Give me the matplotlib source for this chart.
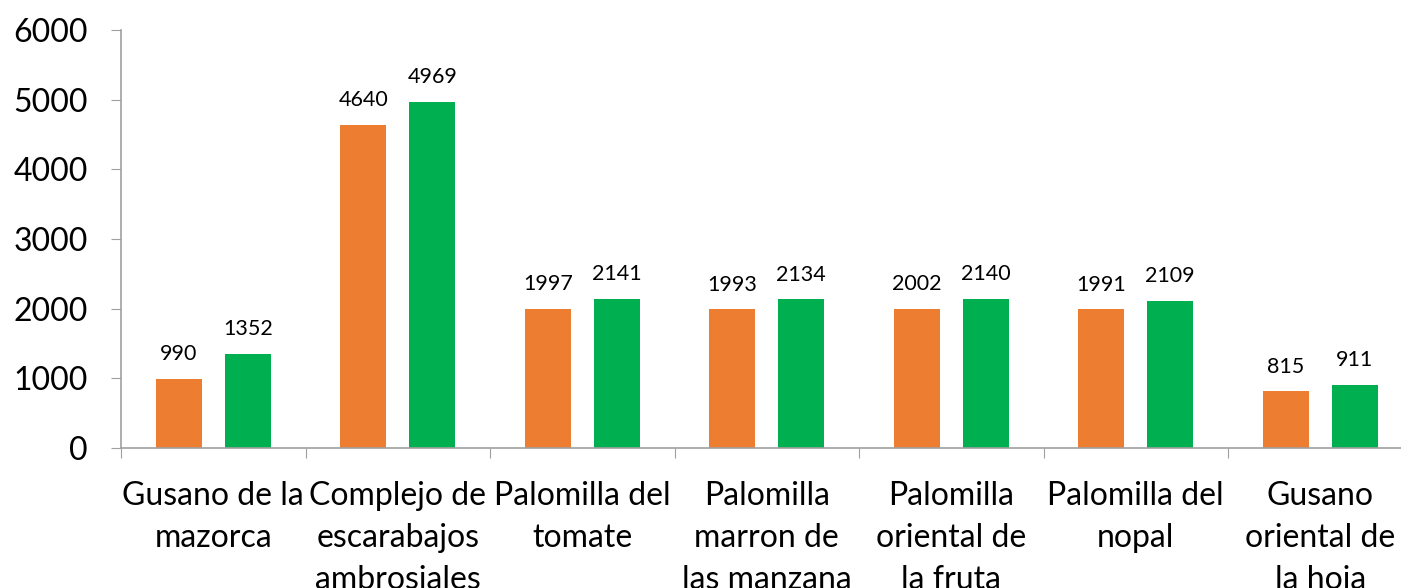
import numpy as np
import matplotlib.pyplot as plt

categories = ['Gusano de la\nmazorca', 'Complejo de\nescarabajos\nambrosiales',
              'Palomilla del\ntomate', 'Palomilla\nmarron de\nlas manzana',
              'Palomilla\noriental de\nla fruta', 'Palomilla del\nnopal',
              'Gusano\noriental de\nla hoja']
orange_vals = [990, 4640, 1997, 1993, 2002, 1991, 815]
green_vals = [1352, 4969, 2141, 2134, 2140, 2109, 911]
yticks = [0, 1000, 2000, 3000, 4000, 5000, 6000]

plt.rcParams['font.family'] = ['Lato', 'DejaVu Sans']

fig = plt.figure(figsize=(14.01, 5.88), dpi=100)
ax = fig.add_axes([121/1401, 1-448/588, 1291.5/1401, 418/588])

x = np.arange(len(categories))
off = 0.187
w = 0.25
b1 = ax.bar(x - off, orange_vals, w, color='#ED7D31')
b2 = ax.bar(x + off, green_vals, w, color='#00B050')

for bars, vals in ((b1, orange_vals), (b2, green_vals)):
    for bar, v in zip(bars, vals):
        ax.annotate(str(v), (bar.get_x() + bar.get_width()/2, v),
                    xytext=(0, 10.5), textcoords='offset points',
                    ha='center', va='bottom', fontsize=15.5)

ax.set_xlim(-0.5, len(categories) - 0.5)
ax.set_ylim(0, 6000)
ax.set_yticks(yticks)
ax.tick_params(axis='y', labelsize=23, length=7, color='#A0A0A0', pad=17)

# category boundaries get the tick marks, labels sit in the middle
ax.set_xticks(np.arange(len(categories) + 1) - 0.5)
ax.set_xticklabels([])
ax.set_xticks(x, minor=True)
ax.set_xticklabels(categories, minor=True, fontsize=23, linespacing=1.5)
ax.tick_params(axis='x', which='major', length=7, color='#A0A0A0')
ax.tick_params(axis='x', which='minor', length=0, pad=24)

for s in ['top', 'right']:
    ax.spines[s].set_visible(False)
for s in ['left', 'bottom']:
    ax.spines[s].set_color('#A0A0A0')
    ax.spines[s].set_linewidth(1.2)

fig.savefig('out.png', dpi=100)
